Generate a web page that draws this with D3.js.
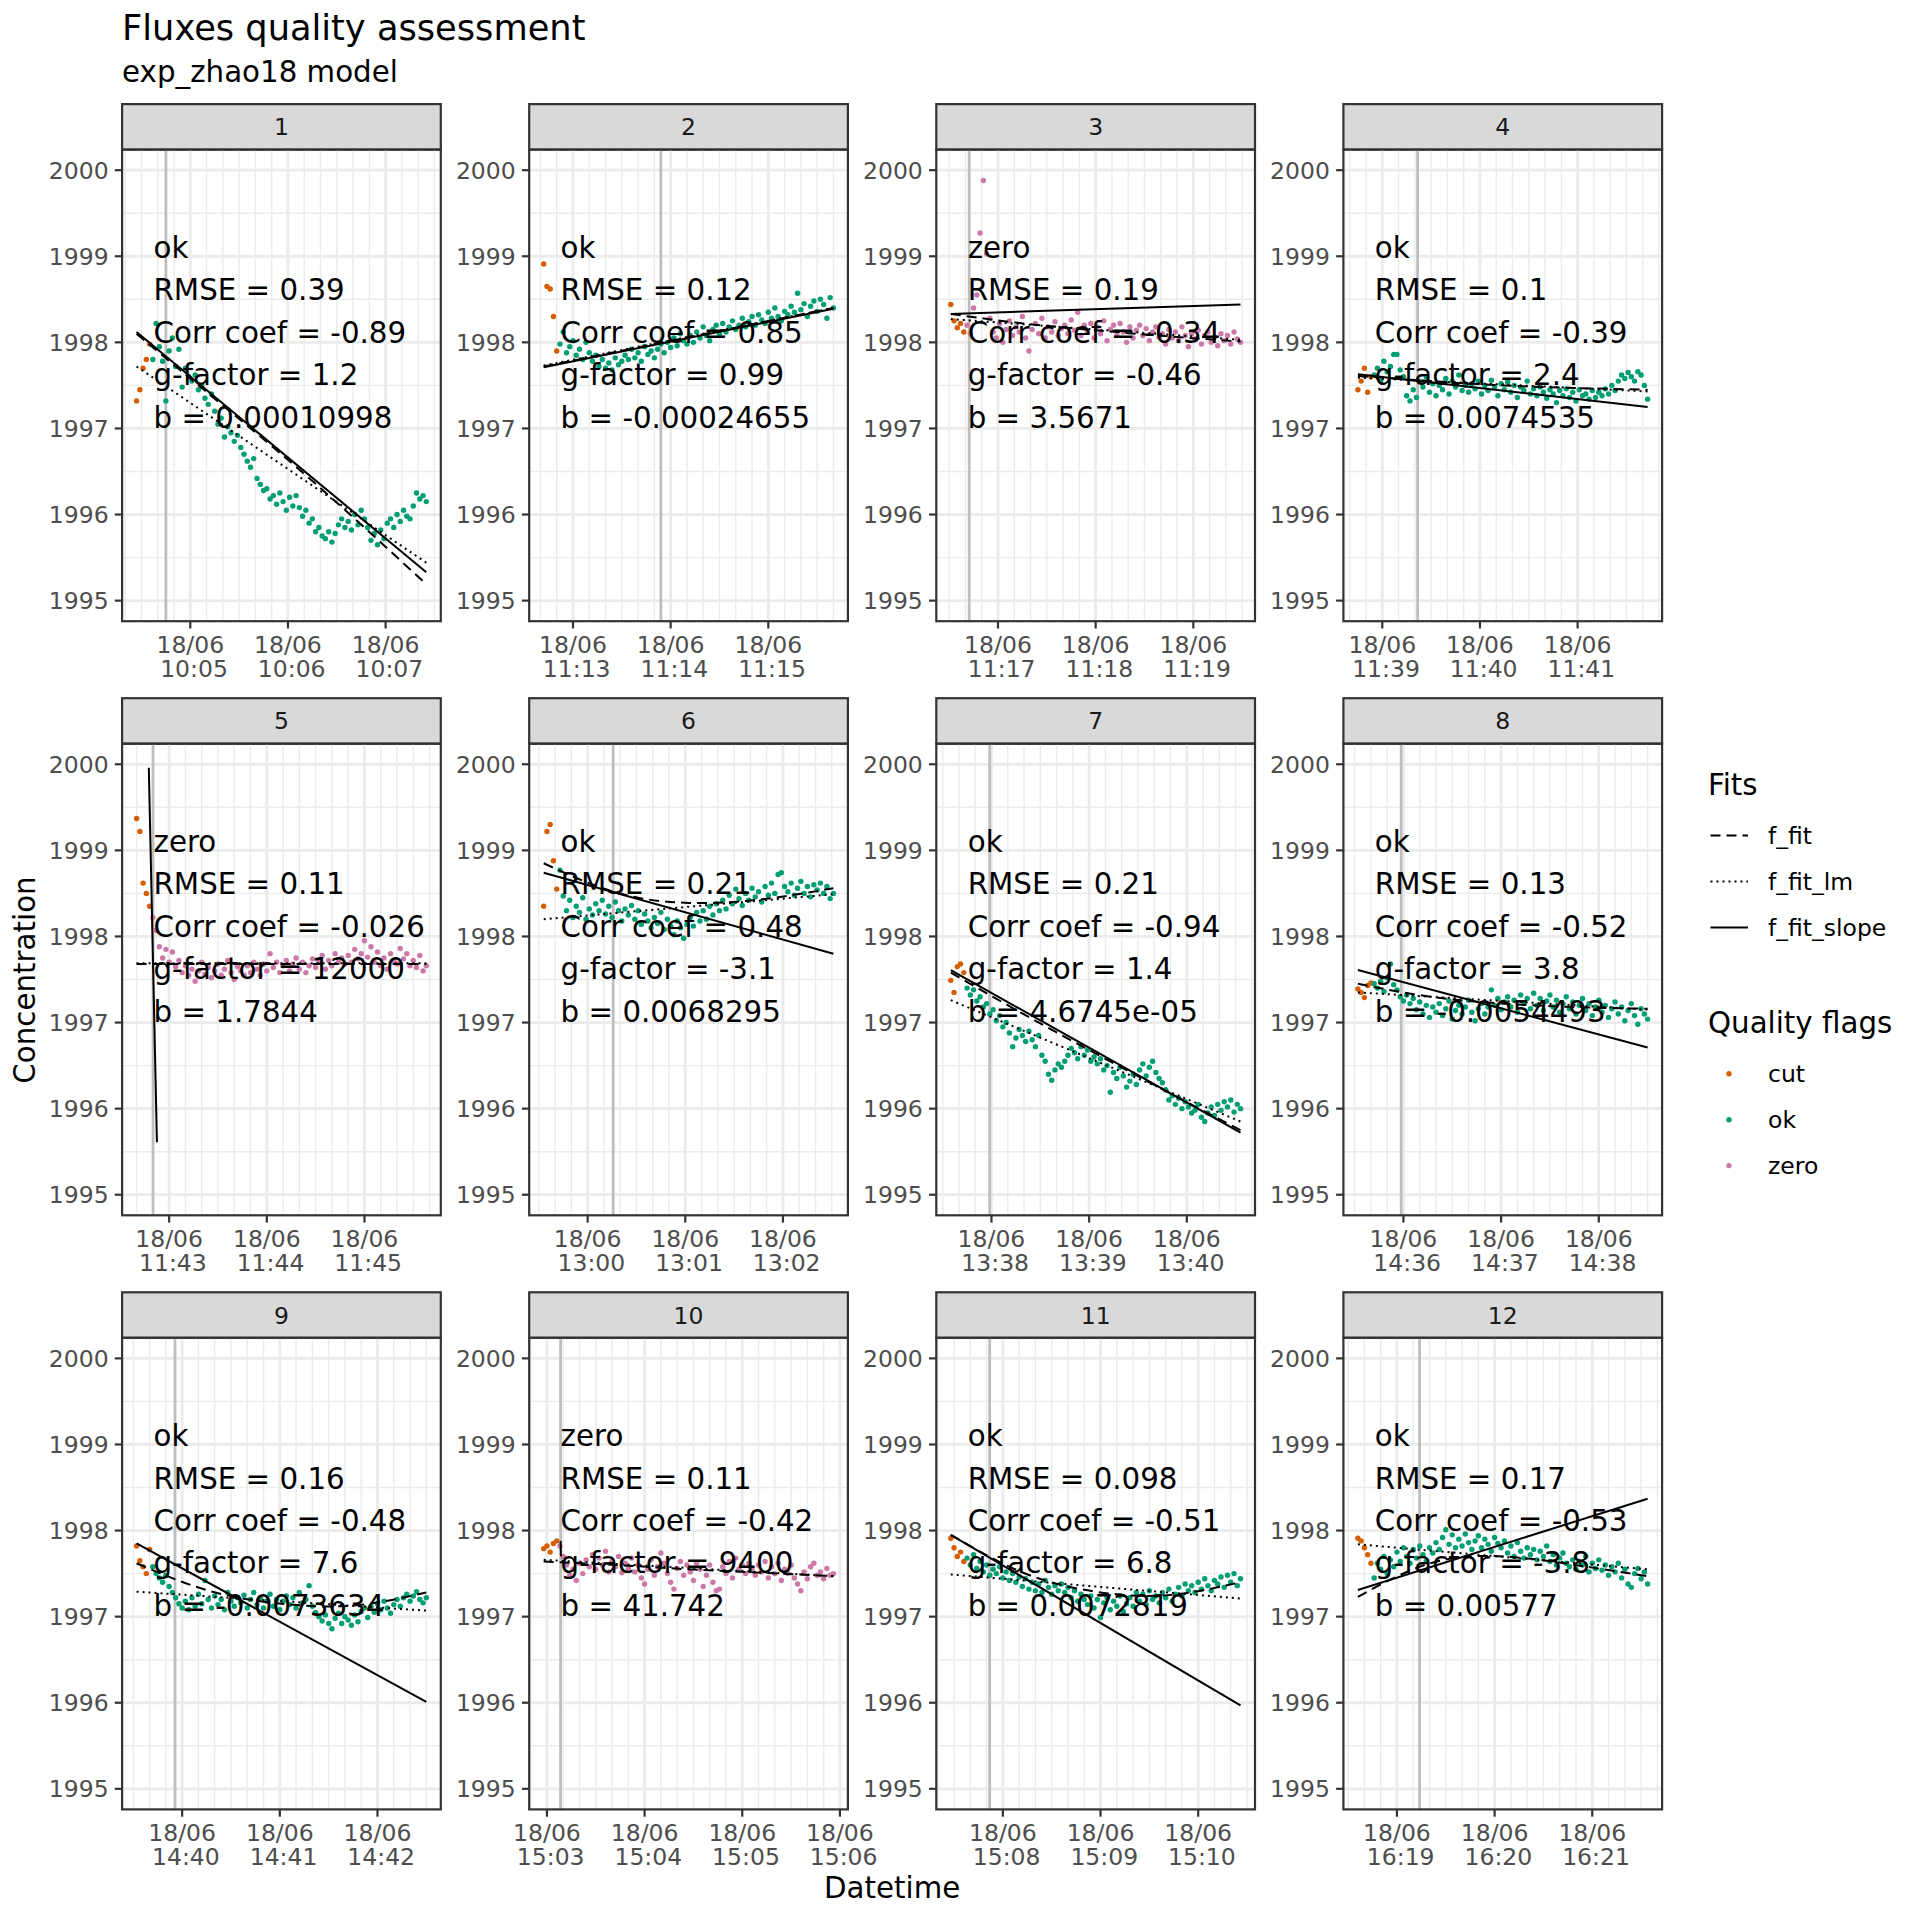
<!DOCTYPE html>
<html>
<head>
<meta charset="utf-8">
<script src="https://cdn.jsdelivr.net/npm/d3@7"></script>
<style>
    body { margin: 0; background: #fff; }
    #chart text { font-family: "DejaVu Sans", sans-serif; }
</style>
</head>
<body>
<svg id="chart"></svg>
<script>
// ---- data ----
const panelIds = ["1", "2", "3", "4", "5", "6", "7", "8", "9", "10", "11", "12"];
const measureDate = "2024-06-18";
const startTimes = ["10:04:27", "11:12:42", "11:16:31", "11:38:45", "11:42:40", "12:59:33",
                    "13:37:35", "14:35:32", "14:39:32", "15:02:58", "15:07:28", "16:18:36"];
const stepSec = 2;          // one reading every 2 s
const cutCount = 5;         // first readings flagged "cut"
const vlineOffsets = [18, 72, 11.3, 36.7, 10.1, 42.7, 23.9, 26.6, 23.6, 10.4, 23.9, 37.9];
const panelFlags = ["ok", "ok", "zero", "ok", "zero", "ok", "ok", "ok", "ok", "zero", "ok", "ok"];
const rmse = ["0.39", "0.12", "0.19", "0.1", "0.11", "0.21", "0.21", "0.13", "0.16", "0.11", "0.098", "0.17"];
const corrCoef = ["-0.89", "0.85", "-0.34", "-0.39", "-0.026", "0.48", "-0.94", "-0.52", "-0.48", "-0.42", "-0.51", "-0.53"];
const gFactor = ["1.2", "0.99", "-0.46", "2.4", "12000", "-3.1", "1.4", "3.8", "7.6", "9400", "6.8", "-3.8"];
const bValue = ["0.00010998", "-0.00024655", "3.5671", "0.0074535", "1.7844", "0.0068295",
                "4.6745e-05", "-0.0054493", "-0.0073634", "41.742", "0.0072819", "0.00577"];

const conc1 = [1997.32, 1997.45, 1997.70, 1997.80, 1997.98,
    1997.80, 1998.22, 1997.95, 1997.78, 1997.32, 1997.90, 1998.05, 1997.72, 1997.92, 1997.48,
    1997.70, 1997.60, 1997.55, 1997.62, 1997.45, 1997.50, 1997.35, 1997.28, 1997.40, 1997.20,
    1997.05, 1997.12, 1996.90, 1997.02, 1996.95, 1996.85, 1996.92, 1996.78, 1996.70, 1996.62,
    1996.55, 1996.65, 1996.42, 1996.35, 1996.28, 1996.30, 1996.18, 1996.22, 1996.12, 1996.25,
    1996.15, 1996.05, 1996.20, 1996.10, 1996.22, 1996.08, 1995.98, 1996.05, 1995.90, 1995.95,
    1995.80, 1995.85, 1995.75, 1995.72, 1995.80, 1995.68, 1995.78, 1995.88, 1995.95, 1995.85,
    1995.92, 1995.82, 1996.00, 1995.88, 1996.05, 1995.95, 1995.85, 1995.70, 1995.78, 1995.65,
    1995.82, 1995.72, 1995.90, 1995.95, 1995.85, 1996.00, 1995.92, 1996.05, 1995.98, 1995.95,
    1996.10, 1996.25, 1996.18, 1996.22, 1996.15];
const conc2 = [1998.91, 1998.65, 1998.62, 1998.30, 1997.90,
    1997.98, 1998.12, 1997.88, 1997.95, 1998.02, 1997.85, 1997.92, 1997.80, 1998.00, 1997.88,
    1997.78, 1997.85, 1997.72, 1997.80, 1997.70, 1997.76, 1997.68, 1997.82, 1997.74, 1997.78,
    1997.85, 1997.80, 1997.92, 1997.82, 1997.88, 1997.78, 1997.95, 1997.86, 1997.90, 1997.82,
    1997.92, 1997.98, 1997.88, 1998.00, 1997.94, 1998.05, 1997.96, 1998.10, 1998.02, 1997.98,
    1998.08, 1998.00, 1998.12, 1998.05, 1998.18, 1998.08, 1998.02, 1998.15, 1998.20, 1998.10,
    1998.22, 1998.12, 1998.18, 1998.25, 1998.15, 1998.20, 1998.28, 1998.18, 1998.24, 1998.30,
    1998.20, 1998.32, 1998.26, 1998.22, 1998.35, 1998.28, 1998.40, 1998.30, 1998.25, 1998.36,
    1998.32, 1998.42, 1998.35, 1998.57, 1998.38, 1998.45, 1998.30, 1998.42, 1998.48, 1998.36,
    1998.50, 1998.44, 1998.28, 1998.52, 1998.40];
const conc3 = [1998.44, 1998.25, 1998.17, 1998.22, 1998.12,
    1998.20, 1998.10, 1998.40, 1998.55, 1999.27, 1999.88, 1999.03, 1998.28, 1998.12, 1998.05,
    1998.22, 1998.00, 1998.15, 1998.25, 1998.08, 1998.18, 1998.12, 1998.30, 1998.05, 1997.90,
    1998.15, 1998.22, 1998.10, 1998.28, 1998.05, 1998.18, 1998.12, 1998.24, 1998.08, 1998.16,
    1998.20, 1998.10, 1998.26, 1998.14, 1998.35, 1998.08, 1998.20, 1998.12, 1998.22, 1998.05,
    1998.18, 1998.10, 1998.25, 1998.02, 1998.15, 1998.20, 1998.08, 1998.22, 1998.12, 1998.00,
    1998.18, 1998.05, 1998.14, 1998.20, 1998.08, 1998.16, 1998.02, 1998.12, 1998.18, 1998.06,
    1998.10, 1997.98, 1998.15, 1998.05, 1998.12, 1998.02, 1998.18, 1998.08, 1997.95, 1998.10,
    1998.04, 1998.14, 1997.98, 1998.08, 1998.12, 1998.00, 1998.06, 1997.96, 1998.10, 1998.02,
    1998.08, 1997.98, 1998.12, 1998.04, 1998.00];
const conc4 = [1997.45, 1997.55, 1997.70, 1997.42, 1997.60,
    1997.62, 1997.70, 1997.55, 1997.78, 1997.66, 1997.72, 1997.86, 1997.86, 1997.68, 1997.60,
    1997.38, 1997.32, 1997.45, 1997.36, 1997.55, 1997.48, 1997.60, 1997.42, 1997.52, 1997.38,
    1997.50, 1997.45, 1997.58, 1997.40, 1997.55, 1997.48, 1997.62, 1997.44, 1997.50, 1997.42,
    1997.52, 1997.46, 1997.55, 1997.40, 1997.50, 1997.44, 1997.56, 1997.48, 1997.38, 1997.52,
    1997.45, 1997.54, 1997.42, 1997.50, 1997.36, 1997.48, 1997.44, 1997.55, 1997.40, 1997.46,
    1997.38, 1997.48, 1997.42, 1997.35, 1997.45, 1997.40, 1997.30, 1997.44, 1997.38, 1997.46,
    1997.36, 1997.42, 1997.32, 1997.45, 1997.38, 1997.40, 1997.34, 1997.44, 1997.36, 1997.42,
    1997.38, 1997.46, 1997.40, 1997.50, 1997.44, 1997.55, 1997.62, 1997.58, 1997.65, 1997.60,
    1997.55, 1997.66, 1997.62, 1997.50, 1997.34];
const conc5 = [1999.37, 1999.22, 1998.62, 1998.50, 1998.35,
    1998.22, 1998.07, 1997.88, 1997.75, 1997.85, 1997.70, 1997.82, 1997.65, 1997.72, 1997.58,
    1997.66, 1997.55, 1997.62, 1997.48, 1997.60, 1997.70, 1997.56, 1997.64, 1997.52, 1997.60,
    1997.68, 1997.55, 1997.62, 1997.72, 1997.58, 1997.50, 1997.65, 1997.60, 1997.55, 1997.66,
    1997.58, 1997.70, 1997.62, 1997.55, 1997.68, 1997.60, 1997.80, 1997.64, 1997.70, 1997.58,
    1997.66, 1997.72, 1997.60, 1997.68, 1997.75, 1997.62, 1997.70, 1997.58, 1997.66, 1997.74,
    1997.64, 1997.70, 1997.78, 1997.62, 1997.72, 1997.66, 1997.80, 1997.70, 1997.75, 1997.68,
    1997.78, 1997.70, 1997.85, 1997.74, 1997.80, 1997.95, 1997.76, 1997.88, 1997.70, 1997.82,
    1997.66, 1997.75, 1997.62, 1997.80, 1997.72, 1997.68, 1997.86, 1997.74, 1997.80, 1997.66,
    1997.72, 1997.64, 1997.78, 1997.60, 1997.66];
const conc6 = [1998.35, 1999.22, 1999.30, 1998.88, 1998.55,
    1998.77, 1998.47, 1998.30, 1998.42, 1998.22, 1998.35, 1998.28, 1998.45, 1998.20, 1998.32,
    1998.25, 1998.38, 1998.30, 1998.42, 1998.26, 1998.35, 1998.22, 1998.40, 1998.30, 1998.18,
    1998.32, 1998.25, 1998.36, 1998.20, 1998.30, 1998.14, 1998.26, 1998.18, 1998.10, 1998.22,
    1998.15, 1998.28, 1998.08, 1998.20, 1998.12, 1998.02, 1998.18, 1998.10, 1997.98, 1998.14,
    1998.22, 1998.12, 1998.28, 1998.18, 1998.30, 1998.20, 1998.35, 1998.25, 1998.38, 1998.30,
    1998.42, 1998.32, 1998.48, 1998.38, 1998.55, 1998.44, 1998.36, 1998.50, 1998.42, 1998.56,
    1998.46, 1998.52, 1998.40, 1998.58, 1998.48, 1998.62, 1998.50, 1998.72, 1998.74, 1998.58,
    1998.52, 1998.62, 1998.48, 1998.56, 1998.64, 1998.50, 1998.58, 1998.46, 1998.60, 1998.54,
    1998.62, 1998.50, 1998.58, 1998.44, 1998.50];
const conc7 = [1997.49, 1997.35, 1997.65, 1997.68, 1997.58,
    1997.40, 1997.32, 1997.38, 1997.25, 1997.30, 1997.18, 1997.22, 1997.10, 1997.15, 1997.02,
    1997.08, 1996.95, 1997.00, 1996.88, 1996.72, 1996.82, 1996.92, 1996.85, 1996.78, 1996.90,
    1996.80, 1996.72, 1996.85, 1996.62, 1996.55, 1996.40, 1996.33, 1996.45, 1996.52, 1996.48,
    1996.55, 1996.62, 1996.70, 1996.65, 1996.58, 1996.72, 1996.62, 1996.68, 1996.55, 1996.60,
    1996.52, 1996.58, 1996.45, 1996.50, 1996.19, 1996.42, 1996.35, 1996.48, 1996.38, 1996.25,
    1996.32, 1996.40, 1996.28, 1996.45, 1996.52, 1996.38, 1996.48, 1996.55, 1996.42, 1996.35,
    1996.30, 1996.22, 1996.10, 1996.15, 1996.05, 1996.12, 1996.00, 1996.08, 1996.02, 1995.95,
    1995.98, 1996.05, 1995.90, 1995.85, 1995.95, 1996.02, 1995.92, 1996.05, 1995.98, 1996.08,
    1996.02, 1996.10, 1995.96, 1996.05, 1996.00];
const conc8 = [1997.39, 1997.35, 1997.29, 1997.43, 1997.46,
    1997.45, 1997.40, 1997.48, 1997.36, 1997.52, 1997.68, 1997.44, 1997.38, 1997.30, 1997.25,
    1997.32, 1997.22, 1997.28, 1997.15, 1997.24, 1997.10, 1997.20, 1997.06, 1997.18, 1997.12,
    1997.22, 1997.08, 1997.16, 1997.25, 1997.04, 1997.14, 1997.20, 1997.10, 1997.18, 1997.26,
    1997.12, 1997.02, 1997.16, 1997.22, 1997.10, 1997.18, 1997.38, 1997.20, 1997.28, 1997.15,
    1997.24, 1997.30, 1997.18, 1997.26, 1997.12, 1997.32, 1997.22, 1997.28, 1997.16, 1997.34,
    1997.20, 1997.28, 1997.14, 1997.25, 1997.32, 1997.18, 1997.26, 1997.12, 1997.22, 1997.30,
    1997.16, 1997.24, 1997.10, 1997.20, 1997.28, 1997.14, 1997.22, 1997.08, 1997.18, 1997.26,
    1997.12, 1997.20, 1997.06, 1997.16, 1997.24, 1997.10, 1997.18, 1997.02, 1997.14, 1997.22,
    1997.08, 1996.98, 1997.16, 1997.10, 1997.04];
const conc9 = [1997.82, 1997.65, 1997.58, 1997.50, 1997.78,
    1997.58, 1997.50, 1997.45, 1997.40, 1997.48, 1997.35, 1997.28, 1997.22, 1997.15, 1997.10,
    1997.18, 1997.08, 1997.22, 1997.12, 1997.26, 1997.15, 1997.42, 1997.20, 1997.10, 1997.24,
    1997.14, 1997.20, 1997.08, 1997.28, 1997.18, 1997.12, 1997.22, 1997.16, 1997.25, 1997.10,
    1997.20, 1997.28, 1997.14, 1997.22, 1997.10, 1997.18, 1997.26, 1997.12, 1997.20, 1997.08,
    1997.18, 1997.24, 1997.14, 1997.22, 1997.10, 1997.28, 1997.16, 1997.20, 1997.36, 1997.12,
    1997.05, 1997.00, 1996.95, 1997.02, 1996.92, 1996.86, 1996.98, 1997.04, 1996.92, 1997.00,
    1996.96, 1996.90, 1997.02, 1996.94, 1997.06, 1997.10, 1996.99, 1997.12, 1997.05, 1997.15,
    1997.08, 1997.18, 1997.10, 1997.04, 1997.14, 1997.20, 1997.12, 1997.22, 1997.26, 1997.18,
    1997.24, 1997.29, 1997.20, 1997.16, 1997.22];
const conc10 = [1997.79, 1997.82, 1997.75, 1997.85, 1997.88,
    1997.82, 1997.70, 1997.60, 1997.48, 1997.55, 1997.42, 1997.62, 1997.50, 1997.66, 1997.58,
    1997.72, 1997.55, 1997.68, 1997.60, 1997.76, 1997.52, 1997.64, 1997.58, 1997.70, 1997.51,
    1997.62, 1997.56, 1997.68, 1997.52, 1997.60, 1997.45, 1997.38, 1997.55, 1997.66, 1997.48,
    1997.58, 1997.74, 1997.62, 1997.50, 1997.40, 1997.32, 1997.56, 1997.64, 1997.48, 1997.60,
    1997.52, 1997.42, 1997.62, 1997.55, 1997.35, 1997.48, 1997.60, 1997.40, 1997.30, 1997.32,
    1997.58, 1997.50, 1997.64, 1997.45, 1997.68, 1997.55, 1997.60, 1997.50, 1997.62, 1997.56,
    1997.48, 1997.60, 1997.52, 1997.64, 1997.45, 1997.58, 1997.50, 1997.62, 1997.42, 1997.55,
    1997.50, 1997.60, 1997.45, 1997.38, 1997.30, 1997.52, 1997.44, 1997.58, 1997.62, 1997.48,
    1997.52, 1997.44, 1997.56, 1997.48, 1997.50];
const conc11 = [1997.91, 1997.80, 1997.70, 1997.75, 1997.64,
    1997.68, 1997.60, 1997.72, 1997.56, 1997.64, 1997.52, 1997.60, 1997.48, 1997.55, 1997.50,
    1997.58, 1997.45, 1997.52, 1997.42, 1997.50, 1997.40, 1997.46, 1997.35, 1997.44, 1997.32,
    1997.40, 1997.30, 1997.38, 1997.28, 1997.42, 1997.34, 1997.26, 1997.36, 1997.30, 1997.38,
    1997.28, 1997.34, 1997.22, 1997.30, 1997.18, 1997.26, 1997.20, 1997.14, 1997.24, 1997.10,
    1997.20, 1996.99, 1997.16, 1997.22, 1997.08, 1997.18, 1997.12, 1997.24, 1997.06, 1997.15,
    1997.22, 1997.12, 1997.28, 1997.18, 1997.26, 1997.14, 1997.30, 1997.20, 1997.24, 1997.16,
    1997.28, 1997.22, 1997.32, 1997.18, 1997.26, 1997.34, 1997.24, 1997.38, 1997.30, 1997.36,
    1997.28, 1997.40, 1997.32, 1997.44, 1997.36, 1997.30, 1997.42, 1997.38, 1997.46, 1997.34,
    1997.48, 1997.40, 1997.50, 1997.36, 1997.44];
const conc12 = [1997.91, 1997.88, 1997.80, 1997.72, 1997.62,
    1997.45, 1997.62, 1997.55, 1997.70, 1997.50, 1997.66, 1997.58, 1997.75, 1997.64, 1997.80,
    1997.70, 1997.62, 1997.78, 1997.68, 1997.82, 1997.72, 1997.64, 1997.80, 1997.74, 1997.86,
    1997.78, 1997.92, 1998.01, 1997.84, 1997.95, 1997.80, 1997.90, 1997.82, 1997.96, 1997.86,
    1997.78, 1997.88, 1997.94, 1997.80, 1997.90, 1997.84, 1997.76, 1997.92, 1997.85, 1997.80,
    1997.88, 1997.74, 1997.82, 1997.70, 1997.86, 1997.76, 1997.68, 1997.80, 1997.72, 1997.78,
    1997.66, 1997.76, 1997.70, 1997.82, 1997.64, 1997.72, 1997.60, 1997.68, 1997.74, 1997.62,
    1997.58, 1997.66, 1997.55, 1997.64, 1997.60, 1997.70, 1997.52, 1997.62, 1997.56, 1997.66,
    1997.54, 1997.60, 1997.48, 1997.58, 1997.52, 1997.62, 1997.45, 1997.55, 1997.38, 1997.34,
    1997.50, 1997.56, 1997.44, 1997.52, 1997.38];
const concentrations = [conc1, conc2, conc3, conc4, conc5, conc6, conc7, conc8, conc9, conc10, conc11, conc12];

// fitted lines: f_fit_slope (start/end value and time span in s), f_fit_lm (start/end), f_fit (values at fractions)
const slopeFit = [[1998.12, 1995.33], [1997.71, 1998.39], [1998.33, 1998.44], [1997.63, 1997.25],
                  [1999.96, 1995.61], [1998.74, 1997.80], [1997.61, 1995.72], [1997.61, 1996.71],
                  [1997.85, 1996.01], [1997.88, 1997.70], [1997.95, 1995.97], [1997.31, 1998.37]];
const slopeSpan = [null, null, null, null, [7.5, 12.5], null, null, null, null, [10.4, 10.6], null, null];
const lmFit = [[1997.72, 1995.44], [1997.73, 1998.40], [1998.27, 1998.03], [1997.59, 1997.43],
               [1997.69, 1997.69], [1998.20, 1998.49], [1997.26, 1995.85], [1997.35, 1997.15],
               [1997.29, 1997.07], [1997.66, 1997.47], [1997.49, 1997.21], [1997.84, 1997.55]];
const fitFractions = [0, 0.25, 0.5, 0.75, 1];
const expFit = [[1998.10, 1997.40, 1996.70, 1995.96, 1995.19],
                [1997.72, 1997.89, 1998.06, 1998.23, 1998.40],
                [1998.33, 1998.22, 1998.14, 1998.07, 1998.01],
                [1997.61, 1997.55, 1997.50, 1997.47, 1997.45],
                [1997.68, 1997.68, 1997.68, 1997.68, 1997.68],
                [1998.85, 1998.51, 1998.39, 1998.43, 1998.56],
                [1997.58, 1997.10, 1996.64, 1996.19, 1995.75],
                [1997.45, 1997.30, 1997.22, 1997.18, 1997.16],
                [1997.62, 1997.30, 1997.15, 1997.13, 1997.28],
                [1997.64, 1997.60, 1997.55, 1997.51, 1997.47],
                [1997.95, 1997.51, 1997.29, 1997.25, 1997.40],
                [1997.23, 1997.62, 1997.70, 1997.60, 1997.47]];
const yLimits = [1995.01, 1999.99];

const flagNames = ["cut", "ok", "zero"];
const flagColors = ["#D55E00", "#009E73", "#CC79A7"];
const fitNames = ["f_fit", "f_fit_lm", "f_fit_slope"];
const fitDash = ["10,6", "2,4", null];

// ---- layout ----
const W = 1920, H = 1920;
const L = {left: 122.1, top: 149.6, colStep: 407.1, rowStep: 594.1, w: 318.7, h: 471.6, strip: 45.5};
const tickLen = 7.3;
const dotR = 2.7;

const svg = d3.select("#chart").attr("width", W).attr("height", H);
svg.append("rect").attr("width", W).attr("height", H).attr("fill", "#fff");

const color = d3.scaleOrdinal().domain(flagNames).range(flagColors);
const dash = d3.scaleOrdinal().domain(fitNames).range(fitDash);

const yPad = (yLimits[1] - yLimits[0]) * 0.05;
const y = d3.scaleLinear().domain([yLimits[0] - yPad, yLimits[1] + yPad]).range([L.h, 0]);
const yMajor = y.ticks(5);
const yMinor = y.ticks(10).filter(v => !yMajor.includes(v));

const parseTime = d3.utcParse("%Y-%m-%d %H:%M:%S");
const fmtDay = d3.utcFormat("%d/%m");
const fmtHour = d3.utcFormat(" %H:%M");
const sec = 1000;

panelIds.forEach(function (id, k) {
    const col = k % 4, row = Math.floor(k / 4);
    const px = L.left + col * L.colStep, py = L.top + row * L.rowStep;
    const t0 = parseTime(measureDate + " " + startTimes[k]);
    const values = concentrations[k];
    const dur = (values.length - 1) * stepSec;
    const tEnd = new Date(+t0 + dur * sec);
    const xPad = dur * sec * 0.05;
    const x = d3.scaleUtc().domain([new Date(+t0 - xPad), new Date(+tEnd + xPad)]).range([0, L.w]);
    const at = s => new Date(+t0 + s * sec);

    const g = svg.append("g").attr("transform", "translate(" + px + "," + py + ")");

    // strip
    g.append("rect").attr("x", 0).attr("y", -L.strip).attr("width", L.w).attr("height", L.strip)
        .attr("fill", "#D9D9D9").attr("stroke", "#333333").attr("stroke-width", 2.2);
    g.append("text").attr("x", L.w / 2).attr("y", -L.strip / 2).attr("dy", "0.36em")
        .attr("text-anchor", "middle").attr("font-size", 23.5).attr("fill", "#1A1A1A").text(id);

    // grid
    const xMajor = x.ticks(d3.utcMinute.every(1));
    const xMinor = x.ticks(d3.utcSecond.every(10)).filter(d => d.getUTCSeconds() !== 0);
    const grid = g.append("g");
    grid.selectAll("line.ymin").data(yMinor).enter().append("line")
        .attr("x1", 0).attr("x2", L.w).attr("y1", d => y(d)).attr("y2", d => y(d))
        .attr("stroke", "#EBEBEB").attr("stroke-width", 1.4);
    grid.selectAll("line.xmin").data(xMinor).enter().append("line")
        .attr("y1", 0).attr("y2", L.h).attr("x1", d => x(d)).attr("x2", d => x(d))
        .attr("stroke", "#EBEBEB").attr("stroke-width", 1.4);
    grid.selectAll("line.ymaj").data(yMajor).enter().append("line")
        .attr("x1", 0).attr("x2", L.w).attr("y1", d => y(d)).attr("y2", d => y(d))
        .attr("stroke", "#EBEBEB").attr("stroke-width", 2.8);
    grid.selectAll("line.xmaj").data(xMajor).enter().append("line")
        .attr("y1", 0).attr("y2", L.h).attr("x1", d => x(d)).attr("x2", d => x(d))
        .attr("stroke", "#EBEBEB").attr("stroke-width", 2.8);

    g.append("clipPath").attr("id", "clip" + k).append("rect").attr("width", L.w).attr("height", L.h);
    const plot = g.append("g").attr("clip-path", "url(#clip" + k + ")");

    // start line
    const vx = x(at(vlineOffsets[k]));
    plot.append("line").attr("x1", vx).attr("x2", vx).attr("y1", 0).attr("y2", L.h)
        .attr("stroke", "#BEBEBE").attr("stroke-width", 2.8);

    // points
    const pts = values.map((v, i) => ({
        time: at(i * stepSec), value: v, flag: i < cutCount ? "cut" : panelFlags[k]
    }));
    plot.selectAll("circle").data(pts).enter().append("circle")
        .attr("cx", d => x(d.time)).attr("cy", d => y(d.value)).attr("r", dotR)
        .attr("fill", d => color(d.flag));

    // fits
    const line = d3.line().x(d => x(d[0])).y(d => y(d[1]));
    const span = slopeSpan[k] || [0, dur];
    const fits = [
        {name: "f_fit", pts: expFit[k].map((v, i) => [at(fitFractions[i] * dur), v]), curve: d3.curveNatural},
        {name: "f_fit_lm", pts: [[t0, lmFit[k][0]], [tEnd, lmFit[k][1]]], curve: d3.curveLinear},
        {name: "f_fit_slope", pts: [[at(span[0]), slopeFit[k][0]], [at(span[1]), slopeFit[k][1]]], curve: d3.curveLinear}
    ];
    fits.forEach(function (f) {
        plot.append("path").attr("d", line.curve(f.curve)(f.pts))
            .attr("fill", "none").attr("stroke", "#000").attr("stroke-width", 2)
            .attr("stroke-dasharray", dash(f.name));
    });

    // annotation
    const lines = [panelFlags[k], "RMSE = " + rmse[k], "Corr coef = " + corrCoef[k],
                   "g-factor = " + gFactor[k], "b = " + bValue[k]];
    const ann = g.append("text").attr("font-size", 29.3).attr("fill", "#000")
        .attr("transform", "translate(" + x(at(10.4)) + "," + y(1998.98) + ")");
    ann.selectAll("tspan").data(lines).enter().append("tspan")
        .attr("x", 0).attr("y", (d, i) => i * 42.4).text(d => d);

    // border
    g.append("rect").attr("width", L.w).attr("height", L.h).attr("fill", "none")
        .attr("stroke", "#333333").attr("stroke-width", 2.2);

    // y axis
    const ya = g.append("g");
    ya.selectAll("line").data(yMajor).enter().append("line")
        .attr("x1", -tickLen).attr("x2", 0).attr("y1", d => y(d)).attr("y2", d => y(d))
        .attr("stroke", "#333333").attr("stroke-width", 2.2);
    ya.selectAll("text").data(yMajor).enter().append("text")
        .attr("x", -13.5).attr("y", d => y(d)).attr("dy", "0.36em").attr("text-anchor", "end")
        .attr("font-size", 23.5).attr("fill", "#4D4D4D").text(d => d3.format("d")(d));

    // x axis
    const xa = g.append("g").attr("transform", "translate(0," + L.h + ")");
    xa.selectAll("line").data(xMajor).enter().append("line")
        .attr("x1", d => x(d)).attr("x2", d => x(d)).attr("y1", 0).attr("y2", tickLen)
        .attr("stroke", "#333333").attr("stroke-width", 2.2);
    const xl = xa.selectAll("text").data(xMajor).enter().append("text")
        .attr("text-anchor", "middle").attr("font-size", 23.5).attr("fill", "#4D4D4D")
        .style("white-space", "pre");
    xl.append("tspan").attr("x", d => x(d)).attr("y", 31.7).text(d => fmtDay(d));
    xl.append("tspan").attr("x", d => x(d)).attr("y", 56).text(d => fmtHour(d));
});

// titles
svg.append("text").attr("x", L.left).attr("y", 40).attr("font-size", 35.2).attr("fill", "#000")
    .text("Fluxes quality assessment");
svg.append("text").attr("x", L.left).attr("y", 82).attr("font-size", 29.3).attr("fill", "#000")
    .text("exp_zhao18 model");

const plotRight = L.left + 3 * L.colStep + L.w;
svg.append("text").attr("x", (L.left + plotRight) / 2).attr("y", 1898)
    .attr("text-anchor", "middle").attr("font-size", 29.3).attr("fill", "#000").text("Datetime");
svg.append("text")
    .attr("transform", "translate(35,980) rotate(-90)")
    .attr("text-anchor", "middle").attr("font-size", 29.3).attr("fill", "#000").text("Concentration");

// legends
const lg = svg.append("g").attr("transform", "translate(1708,0)");
lg.append("text").attr("x", 0).attr("y", 795).attr("font-size", 29.3).attr("fill", "#000").text("Fits");
fitNames.forEach(function (n, i) {
    const yy = 835.4 + i * 46;
    lg.append("line").attr("x1", 2.5).attr("x2", 40).attr("y1", yy).attr("y2", yy)
        .attr("stroke", "#000").attr("stroke-width", 2).attr("stroke-dasharray", dash(n));
    lg.append("text").attr("x", 60).attr("y", yy).attr("dy", "0.36em")
        .attr("font-size", 23.5).attr("fill", "#000").text(n);
});
lg.append("text").attr("x", 0).attr("y", 1032.5).attr("font-size", 29.3).attr("fill", "#000").text("Quality flags");
flagNames.forEach(function (n, i) {
    const yy = 1073.8 + i * 45.9;
    lg.append("circle").attr("cx", 21).attr("cy", yy).attr("r", dotR).attr("fill", color(n));
    lg.append("text").attr("x", 60).attr("y", yy).attr("dy", "0.36em")
        .attr("font-size", 23.5).attr("fill", "#000").text(n);
});
</script>
</body>
</html>
